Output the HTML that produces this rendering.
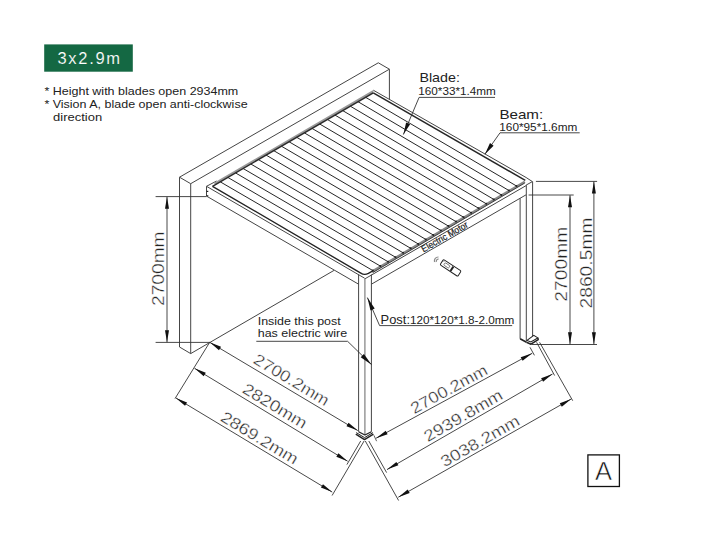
<!DOCTYPE html>
<html><head><meta charset="utf-8"><style>
html,body{margin:0;padding:0;background:#fff;}
svg{display:block;font-family:"Liberation Sans",sans-serif;}
</style></head><body>
<svg width="720" height="554" viewBox="0 0 720 554">
<rect width="720" height="554" fill="#fff"/>
<rect x="44.2" y="44.4" width="88.6" height="27.3" fill="#146843"/>
<text x="57.5" y="63.6" font-size="16.5" fill="#fff" stroke="#146843" stroke-width="0.15" textLength="62.5" lengthAdjust="spacing">3x2.9m</text>
<text x="44.4" y="95.2" font-size="11.5" fill="#222" textLength="193.9" lengthAdjust="spacingAndGlyphs">* Height with blades open 2934mm</text>
<text x="44.4" y="107.9" font-size="11.5" fill="#222" textLength="203.2" lengthAdjust="spacingAndGlyphs">* Vision A, blade open anti-clockwise</text>
<text x="53.1" y="120.8" font-size="11.5" fill="#222" textLength="49" lengthAdjust="spacingAndGlyphs">direction</text>
<g>
<line x1="179.5" y1="177.2" x2="378.3" y2="62.8" stroke="#454545" stroke-width="1" /><line x1="190.7" y1="183.7" x2="389.4" y2="69.2" stroke="#454545" stroke-width="1" /><line x1="378.3" y1="62.8" x2="389.4" y2="69.2" stroke="#454545" stroke-width="1" /><line x1="179.5" y1="177.2" x2="190.7" y2="183.7" stroke="#454545" stroke-width="1" /><line x1="179.5" y1="177.2" x2="179.5" y2="347.0" stroke="#454545" stroke-width="1" /><line x1="190.7" y1="183.7" x2="190.7" y2="353.6" stroke="#454545" stroke-width="1" /><line x1="179.5" y1="347.0" x2="190.7" y2="353.6" stroke="#454545" stroke-width="1" /><line x1="190.7" y1="353.6" x2="334.0" y2="270.4" stroke="#454545" stroke-width="1" /><line x1="389.4" y1="69.2" x2="389.4" y2="99.0" stroke="#454545" stroke-width="1" /><line x1="206.5" y1="186.3" x2="206.5" y2="196.1" stroke="#454545" stroke-width="1" /><line x1="206.5" y1="186.3" x2="364.6" y2="278.2" stroke="#454545" stroke-width="1" /><line x1="206.5" y1="196.1" x2="358.6" y2="284.2" stroke="#454545" stroke-width="1" /><line x1="206.5" y1="186.3" x2="216.6" y2="181.0" stroke="#454545" stroke-width="1" /><line x1="206.5" y1="191.4" x2="208.3" y2="191.4" stroke="#222" stroke-width="1.2" /><line x1="206.5" y1="195.8" x2="208.3" y2="195.8" stroke="#222" stroke-width="1.2" /><line x1="373.3" y1="90.2" x2="526.1" y2="177.5" stroke="#454545" stroke-width="1" /><line x1="364.6" y1="279.0" x2="526.1" y2="185.6" stroke="#454545" stroke-width="1" /><line x1="371.4" y1="284.2" x2="526.1" y2="194.8" stroke="#454545" stroke-width="1" /><polyline points="526.1,177.5 532.4,181.6 526.1,185.1" fill="none" stroke="#454545" stroke-width="1" stroke-linejoin="round"/><line x1="532.6" y1="181.6" x2="532.6" y2="336.0" stroke="#454545" stroke-width="1" /><line x1="526.3" y1="185.1" x2="526.3" y2="340.9" stroke="#454545" stroke-width="1" /><line x1="520.1" y1="198.3" x2="520.1" y2="338.8" stroke="#454545" stroke-width="1" /><line x1="358.6" y1="274.5" x2="358.6" y2="431.7" stroke="#454545" stroke-width="1" /><line x1="364.9" y1="278.5" x2="364.9" y2="434.4" stroke="#888" stroke-width="1.3" /><line x1="371.4" y1="274.5" x2="371.4" y2="431.7" stroke="#454545" stroke-width="1" /><polyline points="358.6,431.7 364.9,435.0 371.4,431.7" fill="none" stroke="#222" stroke-width="1.2" stroke-linejoin="round"/><polyline points="356.2,432.6 364.5,437.6 373.0,432.6" fill="none" stroke="#222" stroke-width="1.0" stroke-linejoin="round"/><polyline points="355.8,434.2 364.5,439.6 373.4,434.2" fill="none" stroke="#222" stroke-width="1.5" stroke-linejoin="round"/><line x1="373.9" y1="435.3" x2="376.6" y2="441.2" stroke="#333" stroke-width="0.8" /><line x1="520.1" y1="338.8" x2="526.5" y2="342.2" stroke="#222" stroke-width="1.6" /><polygon points="527.0,340.4 533.8,335.4 537.8,337.9 530.9,342.0" fill="#fff" stroke="#222" stroke-width="1.1"/><polyline points="526.5,342.2 531.0,344.2 538.2,339.6 537.8,337.9" fill="none" stroke="#222" stroke-width="1.5" stroke-linejoin="round"/><line x1="372.5" y1="271.4" x2="524.8" y2="181.7" stroke="#888" stroke-width="2.4" /><line x1="372.5" y1="272.7" x2="524.8" y2="183.0" stroke="#333" stroke-width="0.9" /><line x1="214.5" y1="183.8" x2="373.3" y2="91.2" stroke="#999" stroke-width="2.2" /><line x1="212.5" y1="186.3" x2="373.3" y2="92.8" stroke="#2a2a2a" stroke-width="1.5" /><path d="M212.5,186.3 L360.8,273.1 Q364.3,275.6 368.4,273.4 L372.8,270.9" fill="none" stroke="#222" stroke-width="1.35"/><line x1="220.2" y1="181.8" x2="372.9" y2="270.6" stroke="#262626" stroke-width="1.0" /><circle cx="372.9" cy="270.6" r="1.0" fill="#222"/><line x1="227.8" y1="177.4" x2="380.4" y2="266.1" stroke="#262626" stroke-width="1.0" /><circle cx="380.4" cy="266.1" r="1.0" fill="#222"/><line x1="235.5" y1="172.9" x2="388.0" y2="261.7" stroke="#262626" stroke-width="1.0" /><circle cx="388.0" cy="261.7" r="1.0" fill="#222"/><line x1="243.1" y1="168.5" x2="395.5" y2="257.2" stroke="#262626" stroke-width="1.0" /><circle cx="395.5" cy="257.2" r="1.0" fill="#222"/><line x1="250.8" y1="164.0" x2="403.1" y2="252.8" stroke="#262626" stroke-width="1.0" /><circle cx="403.1" cy="252.8" r="1.0" fill="#222"/><line x1="258.4" y1="159.6" x2="410.7" y2="248.3" stroke="#262626" stroke-width="1.0" /><circle cx="410.7" cy="248.3" r="1.0" fill="#222"/><line x1="266.1" y1="155.1" x2="418.2" y2="243.9" stroke="#262626" stroke-width="1.0" /><circle cx="418.2" cy="243.9" r="1.0" fill="#222"/><line x1="273.8" y1="150.7" x2="425.8" y2="239.4" stroke="#262626" stroke-width="1.0" /><circle cx="425.8" cy="239.4" r="1.0" fill="#222"/><line x1="281.4" y1="146.2" x2="433.3" y2="235.0" stroke="#262626" stroke-width="1.0" /><circle cx="433.3" cy="235.0" r="1.0" fill="#222"/><line x1="289.1" y1="141.8" x2="440.9" y2="230.5" stroke="#262626" stroke-width="1.0" /><circle cx="440.9" cy="230.5" r="1.0" fill="#222"/><line x1="296.7" y1="137.3" x2="448.5" y2="226.1" stroke="#262626" stroke-width="1.0" /><circle cx="448.5" cy="226.1" r="1.0" fill="#222"/><line x1="304.4" y1="132.9" x2="456.0" y2="221.6" stroke="#262626" stroke-width="1.0" /><circle cx="456.0" cy="221.6" r="1.0" fill="#222"/><line x1="312.0" y1="128.4" x2="463.6" y2="217.2" stroke="#262626" stroke-width="1.0" /><circle cx="463.6" cy="217.2" r="1.0" fill="#222"/><line x1="319.7" y1="124.0" x2="471.1" y2="212.7" stroke="#262626" stroke-width="1.0" /><circle cx="471.1" cy="212.7" r="1.0" fill="#222"/><line x1="327.4" y1="119.5" x2="478.7" y2="208.3" stroke="#262626" stroke-width="1.0" /><circle cx="478.7" cy="208.3" r="1.0" fill="#222"/><line x1="335.0" y1="115.1" x2="486.3" y2="203.8" stroke="#262626" stroke-width="1.0" /><circle cx="486.3" cy="203.8" r="1.0" fill="#222"/><line x1="342.7" y1="110.6" x2="493.8" y2="199.4" stroke="#262626" stroke-width="1.0" /><circle cx="493.8" cy="199.4" r="1.0" fill="#222"/><line x1="350.3" y1="106.2" x2="501.4" y2="194.9" stroke="#262626" stroke-width="1.0" /><circle cx="501.4" cy="194.9" r="1.0" fill="#222"/><line x1="358.0" y1="101.7" x2="508.9" y2="190.5" stroke="#262626" stroke-width="1.0" /><circle cx="508.9" cy="190.5" r="1.0" fill="#222"/><line x1="365.6" y1="97.3" x2="516.5" y2="186.0" stroke="#262626" stroke-width="1.0" /><circle cx="516.5" cy="186.0" r="1.0" fill="#222"/><line x1="373.3" y1="92.8" x2="525.3" y2="180.4" stroke="#262626" stroke-width="1.5" /><line x1="155.6" y1="196.6" x2="206.5" y2="196.6" stroke="#333" stroke-width="0.9" /><line x1="155.6" y1="342.4" x2="209.7" y2="342.4" stroke="#333" stroke-width="0.9" /><line x1="167.0" y1="196.8" x2="167.0" y2="342.2" stroke="#333" stroke-width="0.9" /><polygon points="167.0,196.8 169.0,208.8 165.0,208.8" fill="#111" stroke="none" stroke-width="0"/><polygon points="167.0,342.2 165.0,330.2 169.0,330.2" fill="#111" stroke="none" stroke-width="0"/><text x="163.8" y="268.7" font-size="16" fill="#222" text-anchor="middle" textLength="74.5" lengthAdjust="spacingAndGlyphs" transform="rotate(-90 163.8 268.7)" stroke="#fff" stroke-width="0.35">2700mm</text><line x1="535.9" y1="181.4" x2="597.1" y2="181.4" stroke="#333" stroke-width="0.9" /><line x1="528.6" y1="195.0" x2="573.7" y2="195.0" stroke="#333" stroke-width="0.9" /><line x1="531.6" y1="344.5" x2="597.0" y2="344.5" stroke="#333" stroke-width="0.9" /><line x1="593.9" y1="181.6" x2="593.9" y2="344.3" stroke="#333" stroke-width="0.9" /><polygon points="593.9,181.6 595.9,193.6 591.9,193.6" fill="#111" stroke="none" stroke-width="0"/><polygon points="593.9,344.3 591.9,332.3 595.9,332.3" fill="#111" stroke="none" stroke-width="0"/><line x1="570.0" y1="195.2" x2="570.0" y2="344.3" stroke="#333" stroke-width="0.9" /><polygon points="570.0,195.2 572.0,207.2 568.0,207.2" fill="#111" stroke="none" stroke-width="0"/><polygon points="570.0,344.3 568.0,332.3 572.0,332.3" fill="#111" stroke="none" stroke-width="0"/><text x="567.3" y="264.2" font-size="16" fill="#222" text-anchor="middle" textLength="75" lengthAdjust="spacingAndGlyphs" transform="rotate(-90 567.3 264.2)" stroke="#fff" stroke-width="0.35">2700mm</text><text x="591.7" y="263" font-size="16" fill="#222" text-anchor="middle" textLength="91" lengthAdjust="spacingAndGlyphs" transform="rotate(-90 591.7 263)" stroke="#fff" stroke-width="0.35">2860.5mm</text><line x1="209.7" y1="342.3" x2="175.0" y2="398.6" stroke="#333" stroke-width="0.9" /><line x1="360.7" y1="441.0" x2="346.9" y2="464.6" stroke="#333" stroke-width="0.9" /><line x1="364.1" y1="441.0" x2="332.1" y2="495.5" stroke="#333" stroke-width="0.9" /><line x1="209.7" y1="342.3" x2="357.8" y2="430.6" stroke="#333" stroke-width="0.9" /><polygon points="209.7,342.3 221.0,346.7 219.0,350.2" fill="#111" stroke="none" stroke-width="0"/><polygon points="357.8,430.6 346.5,426.2 348.5,422.7" fill="#111" stroke="none" stroke-width="0"/><line x1="194.5" y1="368.3" x2="347.6" y2="461.2" stroke="#333" stroke-width="0.9" /><polygon points="194.5,368.3 205.8,372.8 203.7,376.2" fill="#111" stroke="none" stroke-width="0"/><polygon points="347.6,461.2 336.3,456.7 338.4,453.3" fill="#111" stroke="none" stroke-width="0"/><line x1="175.8" y1="397.9" x2="332.2" y2="492.1" stroke="#333" stroke-width="0.9" /><polygon points="175.8,397.9 187.1,402.4 185.0,405.8" fill="#111" stroke="none" stroke-width="0"/><polygon points="332.2,492.1 320.9,487.6 323.0,484.2" fill="#111" stroke="none" stroke-width="0"/><line x1="365.3" y1="441.0" x2="398.6" y2="500.5" stroke="#333" stroke-width="0.9" /><line x1="368.8" y1="441.0" x2="386.6" y2="472.6" stroke="#333" stroke-width="0.9" /><line x1="536.6" y1="342.3" x2="554.6" y2="375.5" stroke="#333" stroke-width="0.9" /><line x1="539.6" y1="342.3" x2="572.7" y2="400.7" stroke="#333" stroke-width="0.9" /><line x1="530.0" y1="347.3" x2="534.4" y2="355.3" stroke="#333" stroke-width="0.9" /><line x1="376.1" y1="438.2" x2="532.2" y2="353.3" stroke="#333" stroke-width="0.9" /><polygon points="376.1,438.2 385.7,430.7 387.6,434.2" fill="#111" stroke="none" stroke-width="0"/><polygon points="532.2,353.3 522.6,360.8 520.7,357.3" fill="#111" stroke="none" stroke-width="0"/><line x1="387.0" y1="469.6" x2="552.5" y2="374.0" stroke="#333" stroke-width="0.9" /><polygon points="387.0,469.6 396.4,461.9 398.4,465.3" fill="#111" stroke="none" stroke-width="0"/><polygon points="552.5,374.0 543.1,381.7 541.1,378.3" fill="#111" stroke="none" stroke-width="0"/><line x1="398.3" y1="497.2" x2="571.2" y2="399.0" stroke="#333" stroke-width="0.9" /><polygon points="398.3,497.2 407.7,489.5 409.7,493.0" fill="#111" stroke="none" stroke-width="0"/><polygon points="571.2,399.0 561.8,406.7 559.8,403.2" fill="#111" stroke="none" stroke-width="0"/><text x="419.4" y="82.1" font-size="12.2" fill="#222" text-anchor="start" textLength="40.5" lengthAdjust="spacingAndGlyphs" >Blade:</text><text x="418.3" y="94.8" font-size="10.3" fill="#222" text-anchor="start" textLength="77.5" lengthAdjust="spacingAndGlyphs" >160*33*1.4mm</text><line x1="419.1" y1="97.4" x2="495.0" y2="97.4" stroke="#333" stroke-width="0.9" /><line x1="419.1" y1="97.4" x2="403.4" y2="134.5" stroke="#333" stroke-width="0.9" /><polygon points="403.4,134.5 406.1,122.6 410.1,124.3" fill="#111" stroke="none" stroke-width="0"/><text x="499.4" y="119.1" font-size="12.2" fill="#222" text-anchor="start" textLength="43.8" lengthAdjust="spacingAndGlyphs" >Beam:</text><text x="499.3" y="130.6" font-size="10.3" fill="#222" text-anchor="start" textLength="78" lengthAdjust="spacingAndGlyphs" >160*95*1.6mm</text><line x1="500.0" y1="132.8" x2="579.7" y2="132.8" stroke="#333" stroke-width="0.9" /><line x1="500.0" y1="132.8" x2="484.9" y2="154.2" stroke="#333" stroke-width="0.9" /><polygon points="484.9,154.2 490.0,143.1 493.6,145.7" fill="#111" stroke="none" stroke-width="0"/><text x="380.6" y="324" font-size="12.2" fill="#222" text-anchor="start" textLength="29.4" lengthAdjust="spacingAndGlyphs" >Post:</text><text x="410" y="324" font-size="10.3" fill="#222" text-anchor="start" textLength="104.2" lengthAdjust="spacingAndGlyphs" >120*120*1.8-2.0mm</text><line x1="379.6" y1="325.6" x2="512.2" y2="325.6" stroke="#333" stroke-width="0.9" /><line x1="379.6" y1="325.6" x2="367.4" y2="297.6" stroke="#333" stroke-width="0.9" /><polygon points="367.4,297.6 374.7,308.6 370.5,310.4" fill="#111" stroke="none" stroke-width="0"/><text x="257.7" y="324.7" font-size="11.5" fill="#222" text-anchor="start" textLength="83" lengthAdjust="spacingAndGlyphs" >Inside this post</text><text x="257.7" y="336.7" font-size="11.5" fill="#222" text-anchor="start" textLength="89.5" lengthAdjust="spacingAndGlyphs" >has electric wire</text><line x1="256.3" y1="341.3" x2="347.6" y2="341.3" stroke="#333" stroke-width="0.9" /><line x1="347.6" y1="341.3" x2="371.6" y2="364.7" stroke="#333" stroke-width="0.9" /><polygon points="371.6,364.7 360.7,357.3 363.9,354.0" fill="#111" stroke="none" stroke-width="0"/><text x="252.3" y="362.6" font-size="16" fill="#222" text-anchor="start" textLength="85" lengthAdjust="spacingAndGlyphs" transform="rotate(31 252.3 362.6)" stroke="#fff" stroke-width="0.35">2700.2mm</text><text x="241.2" y="392" font-size="16" fill="#222" text-anchor="start" textLength="72" lengthAdjust="spacingAndGlyphs" transform="rotate(31 241.2 392)" stroke="#fff" stroke-width="0.35">2820mm</text><text x="219.5" y="420.2" font-size="16" fill="#222" text-anchor="start" textLength="87" lengthAdjust="spacingAndGlyphs" transform="rotate(31 219.5 420.2)" stroke="#fff" stroke-width="0.35">2869.2mm</text><text x="414.3" y="414.2" font-size="16" fill="#222" text-anchor="start" textLength="85" lengthAdjust="spacingAndGlyphs" transform="rotate(-28.6 414.3 414.2)" stroke="#fff" stroke-width="0.35">2700.2mm</text><text x="427.8" y="442.3" font-size="16" fill="#222" text-anchor="start" textLength="88" lengthAdjust="spacingAndGlyphs" transform="rotate(-30 427.8 442.3)" stroke="#fff" stroke-width="0.35">2939.8mm</text><text x="444.5" y="467.6" font-size="16" fill="#222" text-anchor="start" textLength="88" lengthAdjust="spacingAndGlyphs" transform="rotate(-29.6 444.5 467.6)" stroke="#fff" stroke-width="0.35">3038.2mm</text><rect x="587.9" y="454.9" width="31.5" height="31.6" fill="none" stroke="#111" stroke-width="1.3"/><text x="603.6" y="480.2" font-size="25.5" fill="#111" text-anchor="middle" stroke="#fff" stroke-width="0.6">A</text><text font-size="9.3" fill="#222" stroke="#222" stroke-width="0.2" transform="matrix(0.869,-0.495,0.5,0.866,423.6,252.4)" textLength="52" lengthAdjust="spacingAndGlyphs">Electric Motor</text><g transform="translate(450.6,267.9) rotate(33.5)"><rect x="-10.6" y="-3.2" width="21.2" height="6.4" rx="1.2" fill="#fff" stroke="#222" stroke-width="1"/><rect x="-7.6" y="-1.4" width="6.2" height="2.8" rx="1.2" fill="none" stroke="#555" stroke-width="0.7"/><rect x="0.6" y="-2.6" width="2" height="5.2" fill="#222"/><circle cx="-9" cy="-1.6" r="0.4" fill="#333"/></g><path d="M434.5,262 a4,4 0 0 1 4,-5 M436.3,262 a2.4,2.4 0 0 1 2.4,-3" fill="none" stroke="#888" stroke-width="1.2"/></g>
</svg>
</body></html>
